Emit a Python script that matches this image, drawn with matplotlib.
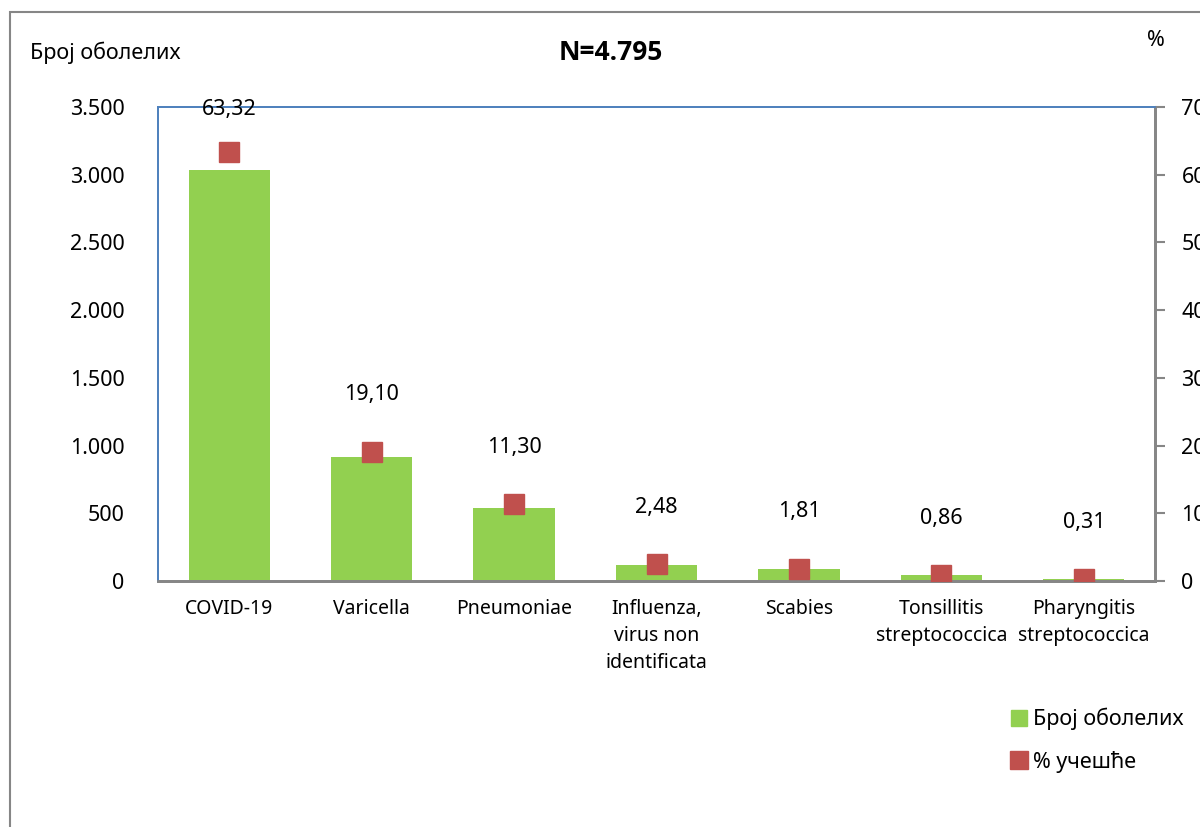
import matplotlib
matplotlib.use('Agg')
import matplotlib.pyplot as plt
from matplotlib.patches import Rectangle
from matplotlib.lines import Line2D
import numpy as np

plt.rcParams['font.family'] = ['Noto Sans', 'DejaVu Sans']

categories = ['COVID-19', 'Varicella', 'Pneumoniae', 'Influenza,\nvirus non\nidentificata',
              'Scabies', 'Tonsillitis\nstreptococcica', 'Pharyngitis\nstreptococcica']
cases = [3036, 916, 542, 119, 87, 41, 15]
percent = [63.32, 19.10, 11.30, 2.48, 1.81, 0.86, 0.31]
left_ticks = [0, 500, 1000, 1500, 2000, 2500, 3000, 3500]
left_ticklabels = ['0', '500', '1.000', '1.500', '2.000', '2.500', '3.000', '3.500']
right_ticks = [0, 10, 20, 30, 40, 50, 60, 70]

green = '#92D050'
red = '#C0504D'
grey = '#868686'
blue = '#4F81BD'

fig = plt.figure(figsize=(12, 8.27), dpi=100)
ax = fig.add_axes([158 / 1200, 1 - 581 / 827, 997 / 1200, 474 / 827])
ax2 = ax.twinx()

x = np.arange(len(categories))
ax.bar(x, cases, width=0.57, color=green, zorder=2)
ax.set_xlim(-0.5, len(categories) - 0.5)
ax.set_ylim(0, 3500)
ax.set_yticks(left_ticks)
ax.set_yticklabels(left_ticklabels, fontsize=15.5)
ax.tick_params(axis='y', length=0, pad=24)
ax.set_xticks(x)
ax.set_xticklabels(categories, fontsize=14, linespacing=1.45)
ax.tick_params(axis='x', length=0, pad=13)

ax2.plot(x, percent, linestyle='none', marker='s', markersize=14, color=red, zorder=3)
ax2.set_ylim(0, 70)
ax2.set_yticks(right_ticks)
ax2.set_yticklabels([str(t) for t in right_ticks], fontsize=15.5)
ax2.tick_params(axis='y', length=7, width=1.5, color=grey, pad=12, direction='out')

for xi, p in zip(x, percent):
    ax2.text(xi, min(p + 8.4, 69.6), f'{p:.2f}'.replace('.', ','),
             ha='center', va='center', fontsize=15.5)

for a in (ax, ax2):
    a.spines['left'].set_color(blue)
    a.spines['top'].set_color(blue)
    a.spines['right'].set_color(grey)
    a.spines['bottom'].set_color(grey)
    a.spines['right'].set_linewidth(2)
    a.spines['bottom'].set_linewidth(2)
    a.spines['left'].set_linewidth(1.3)
    a.spines['top'].set_linewidth(1.3)

fig.text(30 / 1200, 1 - 53 / 827, 'Број оболелих', fontsize=15.5, va='center')
fig.text(611 / 1200, 1 - 52 / 827, 'N=4.795', fontsize=19, fontweight='bold',
         family=['Open Sans', 'DejaVu Sans'], ha='center', va='center')
fig.text(1156 / 1200, 1 - 40 / 827, '%', fontsize=15.5, ha='center', va='center')

handles = [Line2D([], [], linestyle='none', marker='s', markersize=12, color=green),
           Line2D([], [], linestyle='none', marker='s', markersize=13, color=red)]
fig.legend(handles, ['Број оболелих', '% учешће'], loc='upper left',
           bbox_to_anchor=(1010 / 1200, 1 - 708 / 827),
           frameon=False, fontsize=15.5, handlelength=0.8, handletextpad=0.25,
           labelspacing=0.95, borderaxespad=0, borderpad=0)

fig.add_artist(Rectangle((10 / 1200, -0.1), 1.2, 1 - 12 / 827 + 0.1,
                         transform=fig.transFigure, fill=False,
                         edgecolor=grey, linewidth=1.5))

fig.savefig('out.png', dpi=100)
